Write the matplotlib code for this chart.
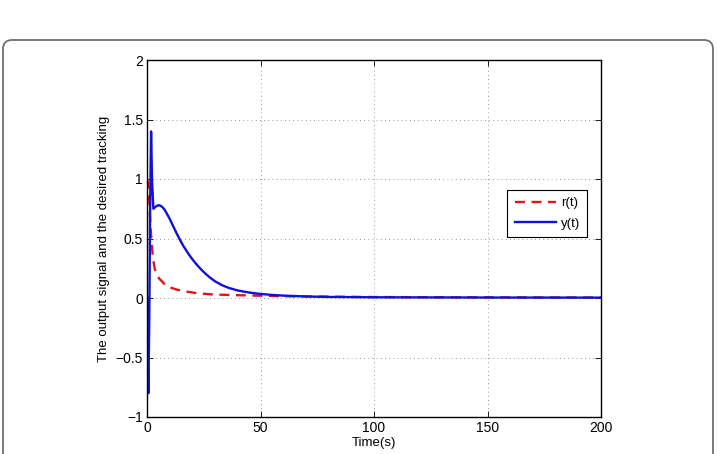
import matplotlib
matplotlib.use("Agg")
import matplotlib.pyplot as plt
import matplotlib.patches as mpatches
import matplotlib.transforms as mtransforms

plt.rcParams['font.family'] = ['Liberation Sans', 'DejaVu Sans']

# desired tracking r(t)
r_t = [0, 0.4, 1.0, 1.5, 2.0, 2.5, 3.0, 3.5, 4.5, 5.5, 6.6, 8.0, 10.0, 13.2, 17.0, 22.0, 29.0, 36.6, 48.5, 60, 80, 100, 130, 160, 200]
r_v = [1.0, 0.97, 0.82, 0.62, 0.47, 0.36, 0.29, 0.24, 0.19, 0.16, 0.14, 0.11, 0.09, 0.07, 0.055, 0.04, 0.03, 0.025, 0.02, 0.015, 0.011, 0.008, 0.006, 0.005, 0.004]

# output signal y(t)
y_t = [0, 0.3, 0.6, 1.0, 1.4, 1.8, 2.2, 2.8, 4.0, 5.0, 6.0, 7.0, 8.0, 9.0, 10.0, 11.0, 12.0, 13.0, 14.0, 15.0, 16.0, 18.0, 20.0, 22.0, 24.0, 26.0, 28.0, 30.0, 33.0, 36.0, 40.0, 45.0, 50.0, 55.0, 60.0, 70.0, 80.0, 100, 150, 200]
y_v = [0.0, -0.5, -0.8, -0.2, 0.8, 1.4, 1.0, 0.75, 0.77, 0.78, 0.775, 0.76, 0.735, 0.70, 0.665, 0.625, 0.585, 0.545, 0.508, 0.472, 0.438, 0.378, 0.325, 0.278, 0.237, 0.2, 0.168, 0.14, 0.108, 0.085, 0.063, 0.046, 0.034, 0.026, 0.02, 0.013, 0.009, 0.006, 0.004, 0.003]

x_ticks = [0, 50, 100, 150, 200]
y_ticks = [-1, -0.5, 0, 0.5, 1, 1.5, 2]
y_tick_labels = ['\u22121', '\u22120.5', '0', '0.5', '1', '1.5', '2']

fig = plt.figure(figsize=(7.17, 4.54), dpi=100)
ax = fig.add_axes([147/717, 37/454, 454/717, 357/454])

ax.plot(r_t, r_v, color='#e3121b', linestyle=(0, (4.2, 2.8)), linewidth=1.7, label='r(t)')
ax.plot(y_t, y_v, color='#1010d8', linewidth=1.7, label='y(t)')

ax.set_xlim(0, 200)
ax.set_ylim(-1, 2)
ax.set_xticks(x_ticks)
ax.set_yticks(y_ticks)
ax.set_yticklabels(y_tick_labels)
ax.tick_params(direction='in', top=True, right=True, labelsize=10, length=4, width=0.6, pad=3)
ax.grid(True, linestyle=(0, (1, 4)), color='#777777', linewidth=0.6)
for s in ax.spines.values():
    s.set_linewidth(1.0)
    s.set_color('black')

ax.set_xlabel('Time(s)', fontsize=9.5, labelpad=1)
ax.set_ylabel('The output signal and the desired tracking', fontsize=9.5, labelpad=4)

leg = ax.legend(loc='upper right', bbox_to_anchor=(0.970, 0.636), fontsize=9.5,
                frameon=True, fancybox=False, edgecolor='black', framealpha=1,
                handlelength=3.1, handletextpad=0.4, borderpad=0.55, labelspacing=0.6,
                borderaxespad=0)
leg.get_frame().set_linewidth(0.8)

border = mpatches.FancyBboxPatch((3, -30), 710, 454 - 40 + 30,
                                 boxstyle=mpatches.BoxStyle("Round", pad=0, rounding_size=9),
                                 transform=mtransforms.IdentityTransform(),
                                 facecolor='none', edgecolor='#707070', linewidth=1.3)
fig.patches.append(border)

fig.savefig('out.png', dpi=100)
